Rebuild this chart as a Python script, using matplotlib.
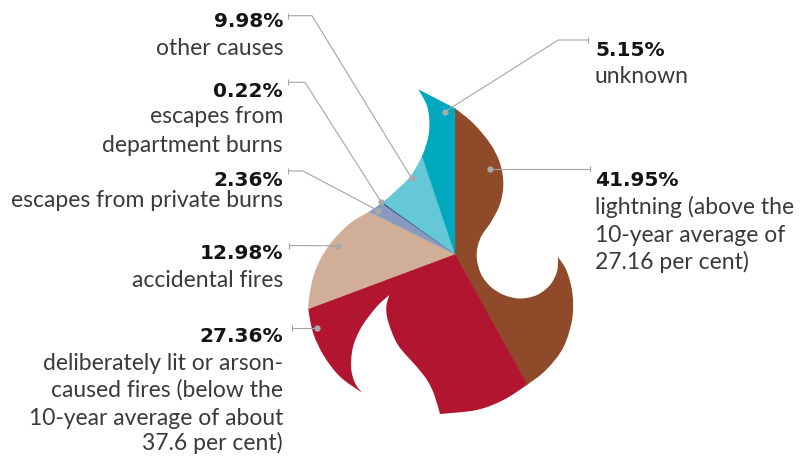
import numpy as np
import matplotlib

matplotlib.use('Agg')
from matplotlib import pyplot as plt
from matplotlib.path import Path
from matplotlib.patches import PathPatch

W, H = 805, 458

# causes of fires, clockwise from 12 o'clock
causes = ['lightning', 'deliberately lit or arson-caused fires', 'accidental fires',
          'escapes from private burns', 'escapes from department burns',
          'other causes', 'unknown']
shares = [41.95, 27.36, 12.98, 2.36, 0.22, 9.98, 5.15]
colors = ['#8F4A29', '#B2152F', '#D0AE98', '#8899BF', '#27498A', '#64C8D6', '#00A9BE']

# label text for each slice (number line, then description lines)
label_lines = [
    ['lightning (above the', '10-year average of', '27.16 per cent)'],
    ['deliberately lit or arson-', 'caused fires (below the',
     '10-year average of about', '37.6 per cent)'],
    ['accidental fires'],
    ['escapes from private burns'],
    ['escapes from', 'department burns'],
    ['other causes'],
    ['unknown'],
]

# layout: text anchor x, alignment, baselines; leader line vertices ending on the dot
CX, CY = 455, 254
label_x = [595, 283, 283, 283, 283, 283, 595]
label_ha = ['left', 'right', 'right', 'right', 'right', 'right', 'left']
baselines = [
    [185.7, 214, 241.7, 269.3],
    [341.7, 370, 397, 425, 450.5],
    [259.3, 286.7],
    [185.5, 207],
    [96.7, 123, 151.5],
    [27.3, 55],
    [55.7, 83.3],
]
leaders = [
    [(590, 169.3), (490, 169.3)],
    [(292, 328.3), (316.7, 328.3)],
    [(289, 245.5), (338.3, 245.8)],
    [(288, 171), (303, 171), (378.3, 210.7)],
    [(288, 82.3), (305, 82.3), (381, 201.7)],
    [(288, 15.7), (312, 15.7), (411.7, 178.3)],
    [(588.3, 40), (558.3, 40), (445, 111.7)],
]

# flame outline (image pixels); each run is smoothed, joins between runs are sharp tips
flame_runs = [
    [(418.3, 89.3), (455, 108.3)],
    [(455, 108.3), (473, 123), (490, 143.3), (500, 163.3), (503.3, 184), (500, 204),
     (491, 222), (482, 235), (477.5, 247), (477, 260), (481.5, 275), (491, 287),
     (504, 295), (520, 298.5), (537, 295), (550, 285), (557, 271.5), (558, 257)],
    [(558, 257), (566.7, 271), (572.5, 294), (572, 320), (563, 348), (546, 370),
     (526.7, 385), (503.3, 400), (476.7, 410), (440, 414)],
    [(440, 414), (434, 394), (427, 380), (416.7, 366.7), (398, 345), (388.3, 322),
     (386.3, 307), (389.3, 295)],
    [(389.3, 295), (376.7, 306.7), (361.7, 326.7), (353, 347), (351.2, 368),
     (355, 383), (361.7, 392.5)],
    [(361.7, 392.5), (340, 376.7), (324, 356), (313.5, 334), (308.5, 310),
     (309.3, 296.7), (313.3, 276.7), (321.7, 256.7), (333.3, 240), (350, 223.3),
     (370, 211), (383.3, 201.7), (396.7, 190), (410, 176.7), (421.7, 156.7),
     (428.3, 136.7), (429.3, 120), (426.7, 105), (418.3, 89.3)],
]


def flame_path(runs):
    verts = [runs[0][0]]
    codes = [Path.MOVETO]
    for run in runs:
        pts = np.asarray(run, float)
        n = len(pts)
        if n == 2:
            verts.append(tuple(pts[1]))
            codes.append(Path.LINETO)
            continue
        for i in range(n - 1):
            p0, p1 = pts[max(i - 1, 0)], pts[i]
            p2, p3 = pts[i + 1], pts[min(i + 2, n - 1)]
            verts += [tuple(p1 + (p2 - p0) / 6), tuple(p2 - (p3 - p1) / 6), tuple(p2)]
            codes += [Path.CURVE4] * 3
    verts.append(runs[0][0])
    codes.append(Path.CLOSEPOLY)
    return Path(verts, codes)


fig = plt.figure(figsize=(W / 100, H / 100), dpi=100)
ax = fig.add_axes([0, 0, 1, 1])

# y axis runs downward, so counterclock=True reads clockwise on screen
wedges, _ = ax.pie(shares, colors=colors, startangle=-90, counterclock=True,
                   radius=200, center=(CX, CY),
                   wedgeprops=dict(linewidth=0.3, antialiased=True))
ax.set_xlim(0, W)
ax.set_ylim(H, 0)
ax.set_aspect('equal')
ax.axis('off')

clip = PathPatch(flame_path(flame_runs), transform=ax.transData, facecolor='none',
                 edgecolor='none')
ax.add_patch(clip)
for w, c in zip(wedges, colors):
    w.set_edgecolor(c)
    w.set_clip_on(True)
    w.set_clip_path(clip)

line_col = '#A4A4A4'
for pts in leaders:
    xs, ys = zip(*pts)
    ax.plot(xs, ys, color=line_col, lw=0.8, solid_capstyle='butt', zorder=3)
    ax.plot(xs[0], ys[0], marker='|', ms=5, mew=0.8, color=line_col, zorder=3)
    ax.plot(xs[-1], ys[-1], marker='o', ms=4.5, mec='none', color='#A9A9A9', zorder=4)

for share, lines, x, ha, ys in zip(shares, label_lines, label_x, label_ha, baselines):
    ax.text(x, ys[0], f'{share:.2f}%', ha=ha, va='baseline', fontsize=14.5,
            family='DejaVu Sans', weight='bold', color='#141414')
    for txt, y in zip(lines, ys[1:]):
        ax.text(x, y, txt, ha=ha, va='baseline', fontsize=16.5,
                family='Lato', weight='normal', color='#3a3a3a')

fig.savefig('out.png', dpi=100)
